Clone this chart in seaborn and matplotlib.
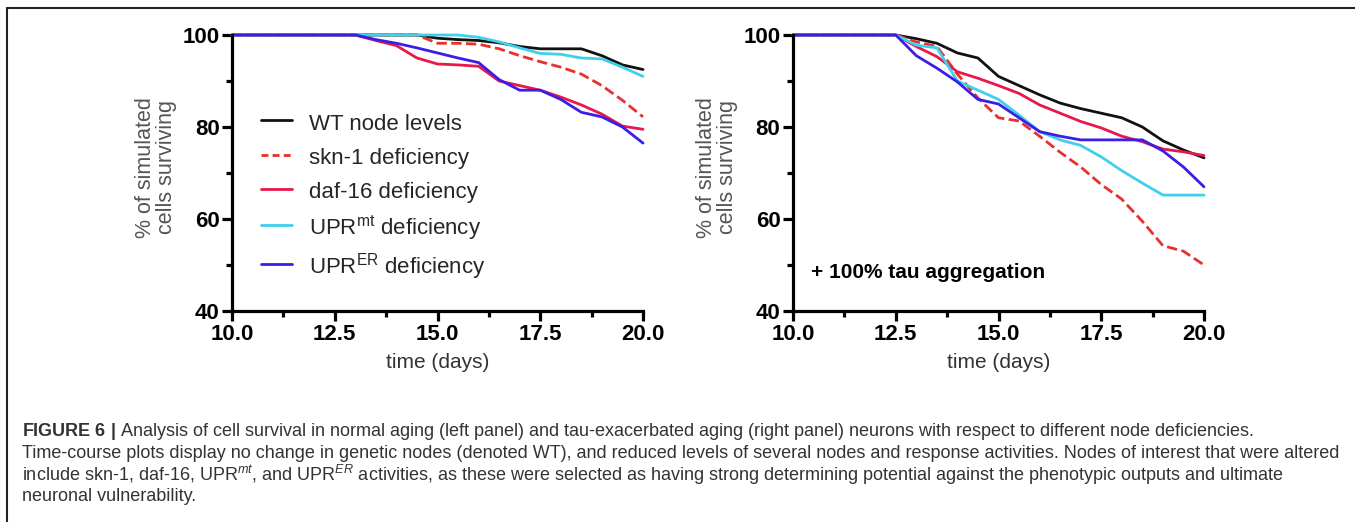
import numpy as np
import pandas as pd
import matplotlib
matplotlib.use("Agg")
import matplotlib.pyplot as plt
import seaborn as sns
from matplotlib.lines import Line2D

# ---------------- data ----------------
days = [10.0, 10.5, 11.0, 11.5, 12.0, 12.5, 13.0, 13.5, 14.0, 14.5, 15.0,
        15.5, 16.0, 16.5, 17.0, 17.5, 18.0, 18.5, 19.0, 19.5, 20.0]

series_names = ["WT node levels", "skn-1 deficiency", "daf-16 deficiency",
                r"UPR$^{\mathrm{mt}}$ deficiency", r"UPR$^{\mathrm{ER}}$ deficiency"]

# left panel: normal aging
wt_left    = [100, 100, 100, 100, 100, 100, 100, 100, 100, 100, 99.3, 99.0, 98.8, 98.3, 97.5, 97.0, 97.0, 97.0, 95.5, 93.5, 92.5]
skn1_left  = [100, 100, 100, 100, 100, 100, 100, 100, 100, 100, 98.2, 98.2, 98.0, 97.0, 95.5, 94.2, 93.0, 91.5, 89.0, 85.8, 82.2]
daf16_left = [100, 100, 100, 100, 100, 100, 100, 98.8, 97.7, 95.0, 93.7, 93.5, 93.2, 90.0, 89.0, 88.0, 86.5, 84.8, 82.8, 80.2, 79.5]
uprmt_left = [100, 100, 100, 100, 100, 100, 100, 100, 100, 100, 100, 100, 99.5, 98.5, 97.2, 96.0, 95.8, 95.0, 94.8, 93.0, 91.0]
prer_left  = [100, 100, 100, 100, 100, 100, 100, 99.0, 98.2, 97.2, 96.1, 95.0, 94.0, 90.3, 88.0, 88.0, 86.0, 83.2, 82.2, 80.0, 76.5]

# right panel: + 100% tau aggregation
wt_right    = [100, 100, 100, 100, 100, 100, 99.2, 98.2, 96.1, 95.0, 91.0, 89.0, 87.0, 85.2, 84.0, 83.0, 82.0, 80.0, 77.0, 75.0, 73.3]
skn1_right  = [100, 100, 100, 100, 100, 100, 98.5, 97.5, 91.5, 86.3, 82.0, 81.3, 78.0, 74.5, 71.3, 67.5, 64.3, 59.5, 54.2, 53.0, 50.0]
daf16_right = [100, 100, 100, 100, 100, 100, 97.5, 95.3, 92.0, 90.6, 89.0, 87.3, 84.8, 83.0, 81.2, 79.8, 78.0, 76.8, 75.2, 74.6, 73.8]
uprmt_right = [100, 100, 100, 100, 100, 100, 97.8, 97.2, 90.0, 88.0, 86.0, 82.6, 79.0, 77.2, 76.0, 73.5, 70.5, 67.8, 65.2, 65.2, 65.2]
prer_right  = [100, 100, 100, 100, 100, 100, 95.5, 92.8, 89.8, 86.0, 85.0, 82.0, 79.0, 78.0, 77.2, 77.2, 77.2, 77.2, 74.8, 71.3, 67.0]

x_major = [10.0, 12.5, 15.0, 17.5, 20.0]
x_labels = ["10.0", "12.5", "15.0", "17.5", "20.0"]
x_minor = [11.25, 13.75, 16.25, 18.75]
y_major = [40, 60, 80, 100]
y_labels = ["40", "60", "80", "100"]
y_minor = [50, 70, 90]

caption_lines = [
    r"$\mathbf{FIGURE\ 6\ |}$ Analysis of cell survival in normal aging (left panel) and tau-exacerbated aging (right panel) neurons with respect to different node deficiencies.",
    "Time-course plots display no change in genetic nodes (denoted WT), and reduced levels of several nodes and response activities. Nodes of interest that were altered",
    r"include skn-1, daf-16, UPR$^{mt}$, and UPR$^{ER}$ activities, as these were selected as having strong determining potential against the phenotypic outputs and ultimate",
    "neuronal vulnerability.",
]

# ---------------- style ----------------
colors = ["#111111", "#e8302c", "#e8184a", "#3fd0ec", "#3a1ee6"]
styles = ["-", "--", "-", "-", "-"]

sns.set_theme(style="ticks")
plt.rcParams["font.family"] = ["Liberation Sans", "DejaVu Sans"]
plt.rcParams.update({
    "mathtext.fontset": "custom",
    "mathtext.rm": "Liberation Sans",
    "mathtext.it": "Liberation Sans:italic",
    "mathtext.bf": "Liberation Sans:bold",
})

W, H = 1355, 522
fig = plt.figure(figsize=(W / 100, H / 100), dpi=100)
fig.patch.set_facecolor("white")

axL = fig.add_axes([232 / W, 1 - 311 / H, 411 / W, 276 / H])
axR = fig.add_axes([793 / W, 1 - 311 / H, 411 / W, 276 / H])

panels = [
    (axL, [wt_left, skn1_left, daf16_left, uprmt_left, prer_left]),
    (axR, [wt_right, skn1_right, daf16_right, uprmt_right, prer_right]),
]

for ax, data in panels:
    for name, vals, c, ls in zip(series_names, data, colors, styles):
        df = pd.DataFrame({"day": days, "pct": vals})
        kw = dict(dashes=(3.5, 2.0)) if ls == "--" else {}
        sns.lineplot(data=df, x="day", y="pct", ax=ax, color=c, linewidth=2.0,
                     linestyle=ls, clip_on=False, legend=False, **kw)
    ax.set_xlim(10, 20)
    ax.set_ylim(40, 100)
    sns.despine(ax=ax)
    for s in ["left", "bottom"]:
        ax.spines[s].set_linewidth(2.3)
        ax.spines[s].set_color("black")
    ax.set_xticks(x_major, x_labels, fontweight="bold", fontsize=16)
    ax.set_xticks(x_minor, minor=True)
    ax.set_yticks(y_major, y_labels, fontweight="bold", fontsize=16)
    ax.set_yticks(y_minor, minor=True)
    ax.tick_params(which="major", length=7, width=2.3, color="black", labelcolor="black", pad=2)
    ax.tick_params(which="minor", length=4.5, width=2.3, color="black")
    ax.set_xlabel("time (days)", fontsize=15, color="#333333", labelpad=6)
    ax.set_ylabel("% of simulated\ncells surviving", fontsize=15.5, color="#555555",
                  linespacing=1.0)
    ax.yaxis.set_label_coords(-0.135, 0.52)
    ax.set_facecolor("none")

# legend on the left panel
handles = []
for name, c, ls in zip(series_names, colors, styles):
    h = Line2D([0], [0], color=c, linewidth=2.0, linestyle=ls)
    if ls == "--":
        h.set_dashes((2.5, 1.5))
    handles.append(h)
axL.legend(handles, series_names, loc="center left", bbox_to_anchor=(0.07, 0.415),
           frameon=False, fontsize=16, handlelength=1.4, handletextpad=0.75,
           handleheight=1.3, labelspacing=0.43, borderaxespad=0, borderpad=0)

axR.text(0.045, 0.14, "+ 100% tau aggregation", transform=axR.transAxes,
         fontsize=15, fontweight="bold", color="black", va="center", ha="left")

# border lines of the figure box
fig.add_artist(Line2D([7 / W, 1.0], [1 - 8 / H, 1 - 8 / H], transform=fig.transFigure,
                      color="#222222", linewidth=1.5))
fig.add_artist(Line2D([7 / W, 7 / W], [0, 1 - 8 / H], transform=fig.transFigure,
                      color="#222222", linewidth=1.5))

# caption
ys = [432, 453.5, 475, 496.5]
cap_size = 11.5
texts = []
for line, y in zip(caption_lines, ys):
    t = fig.text(22 / W, 1 - y / H, line, fontsize=cap_size, color="#333333",
                 ha="left", va="center")
    texts.append(t)
fig.canvas.draw()
r = fig.canvas.get_renderer()
w2 = texts[1].get_window_extent(r).width
scale = 1318 / w2
for t in texts:
    t.set_fontsize(cap_size * scale)

fig.savefig("out.png", dpi=100, facecolor="white")
